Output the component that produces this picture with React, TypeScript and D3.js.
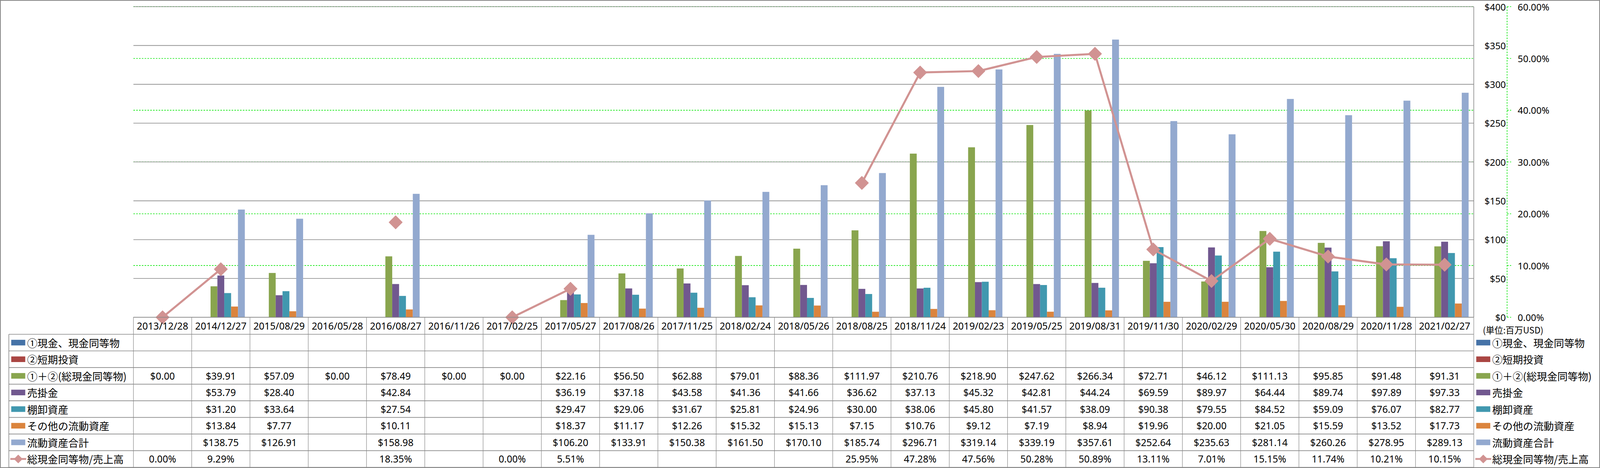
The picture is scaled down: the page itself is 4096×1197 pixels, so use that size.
import React, { useEffect } from 'react';
import * as d3 from 'd3';

// reference size; the svg viewBox scales it down to the 4096 window
const W = 5133;
const H = 1500;
const OUT_W = 4096;
const OUT_H = Math.round((H * OUT_W) / W);

const dates = [
  '2013/12/28', '2014/12/27', '2015/08/29', '2016/05/28', '2016/08/27', '2016/11/26',
  '2017/02/25', '2017/05/27', '2017/08/26', '2017/11/25', '2018/02/24', '2018/05/26',
  '2018/08/25', '2018/11/24', '2019/02/23', '2019/05/25', '2019/08/31', '2019/11/30',
  '2020/02/29', '2020/05/30', '2020/08/29', '2020/11/28', '2021/02/27',
];

type V = number | null;

const cash: V[] = [null, null, null, null, null, null, null, null, null, null, null, null, null, null, null, null, null, null, null, null, null, null, null];
const shortInvest: V[] = [null, null, null, null, null, null, null, null, null, null, null, null, null, null, null, null, null, null, null, null, null, null, null];
const cashTotal: V[] = [0, 39.91, 57.09, 0, 78.49, 0, 0, 22.16, 56.5, 62.88, 79.01, 88.36, 111.97, 210.76, 218.9, 247.62, 266.34, 72.71, 46.12, 111.13, 95.85, 91.48, 91.31];
const receivables: V[] = [null, 53.79, 28.4, null, 42.84, null, null, 36.19, 37.18, 43.58, 41.36, 41.66, 36.62, 37.13, 45.32, 42.81, 44.24, 69.59, 89.97, 64.44, 89.74, 97.89, 97.33];
const inventory: V[] = [null, 31.2, 33.64, null, 27.54, null, null, 29.47, 29.06, 31.67, 25.81, 24.96, 30.0, 38.06, 45.8, 41.57, 38.09, 90.38, 79.55, 84.52, 59.09, 76.07, 82.77];
const otherCurrent: V[] = [null, 13.84, 7.77, null, 10.11, null, null, 18.37, 11.17, 12.26, 15.32, 15.13, 7.15, 10.76, 9.12, 7.19, 8.94, 19.96, 20.0, 21.05, 15.59, 13.52, 17.73];
const totalCurrent: V[] = [null, 138.75, 126.91, null, 158.98, null, null, 106.2, 133.91, 150.38, 161.5, 170.1, 185.74, 296.71, 319.14, 339.19, 357.61, 252.64, 235.63, 281.14, 260.26, 278.95, 289.13];
// percent
const cashRatio: V[] = [0, 9.29, null, null, 18.35, null, 0, 5.51, null, null, null, null, 25.95, 47.28, 47.56, 50.28, 50.89, 13.11, 7.01, 15.15, 11.74, 10.21, 10.15];

const barNames = ['①現金、現金同等物', '②短期投資', '①＋②(総現金同等物)', '売掛金', '棚卸資産', 'その他の流動資産', '流動資産合計'];
const barColors = ['#4572A7', '#AA4643', '#89A54E', '#71588F', '#4198AF', '#DB843D', '#93A9CF'];
const barData = [cash, shortInvest, cashTotal, receivables, inventory, otherCurrent, totalCurrent];
const ratioName = '総現金同等物/売上高';
const ratioColor = '#D19392';
const unitLabel = '(単位:百万USD)';

const LATIN = "'Noto Sans', 'Noto Sans CJK JP', sans-serif";
const CJK = "'Noto Sans CJK JP', 'Noto Sans', sans-serif";
const GRID = '#878787';
const GREEN = '#00E600';

export default function App() {
  useEffect(() => {
    document.body.style.margin = '0';
  }, []);

  // layout
  const plotLeft = 428;
  const plotRight = 4728;
  const plotTop = 21.3;
  const plotBottom = 1017;
  const tableLeft = 28.3;
  const rowTop = 1071.5;
  const rowH = 53.28;
  const nRows = 8;
  const tableBottom = rowTop + nRows * rowH;

  const x = d3.scaleBand<string>().domain(dates).range([plotLeft, plotRight]).padding(0);
  const y = d3.scaleLinear().domain([0, 400]).range([plotBottom, plotTop]);
  const y2 = d3.scaleLinear().domain([0, 60]).range([plotBottom, plotTop]);

  const bw = x.bandwidth() / 8.5;
  const money = d3.format('$.2f');
  const pct = (v: number) => `${v.toFixed(2)}%`;

  const usdTicks = y.ticks(8);
  const pctTicks = y2.ticks(6);

  const line = d3
    .line<V>()
    .defined((d) => d != null)
    .x((_, i) => x(dates[i])! + x.bandwidth() / 2)
    .y((d) => y2(d as number));

  const diamond = (size: number) => `M0,${-size}L${size},0L0,${size}L${-size},0Z`;

  const rowY = (i: number) => rowTop + (i + 0.5) * rowH;

  const tableRows: { name: string; cells: string[] }[] = [
    ...barData.map((s, si) => ({
      name: barNames[si],
      cells: s.map((v) => (v == null ? '' : money(v))),
    })),
    { name: ratioName, cells: cashRatio.map((v) => (v == null ? '' : pct(v))) },
  ];

  const legendMarker = (i: number, mx: number, cy: number) =>
    i < barColors.length ? (
      <rect x={mx} y={cy - 9} width={45} height={18} fill={barColors[i]} />
    ) : (
      <g>
        <line x1={mx - 3} x2={mx + 48} y1={cy} y2={cy} stroke={ratioColor} strokeWidth={6} />
        <path d={diamond(14)} transform={`translate(${mx + 22.5},${cy})`} fill={ratioColor} />
      </g>
    );

  return (
    <svg
      width={OUT_W}
      height={OUT_H}
      viewBox={`0 0 ${W} ${H}`}
      style={{ position: 'absolute', left: 0, top: 0, background: '#fff' }}
    >
      <rect x={0} y={0} width={W} height={H} fill="#fff" />

      {/* secondary gridlines (green dashed) */}
      {pctTicks.filter((t) => t > 0).map((t) => (
        <line key={'g2' + t} x1={plotLeft} x2={plotRight} y1={y2(t)} y2={y2(t)}
          stroke={GREEN} strokeWidth={2} strokeDasharray="5,4" />
      ))}
      {/* primary gridlines */}
      {usdTicks.map((t) => (
        <line key={'g' + t} x1={plotLeft} x2={plotRight} y1={y(t)} y2={y(t)} stroke={GRID} strokeWidth={2} />
      ))}
      <line x1={plotRight} x2={plotRight} y1={plotTop} y2={plotBottom} stroke={GRID} strokeWidth={2} />

      {/* bars */}
      {barData.map((s, si) =>
        s.map((v, i) =>
          v == null || v === 0 ? null : (
            <rect key={`b${si}-${i}`} x={x(dates[i])! + 0.75 * bw + si * bw} y={y(v)}
              width={bw} height={plotBottom - y(v)} fill={barColors[si]} />
          )
        )
      )}

      {/* ratio line */}
      <path d={line(cashRatio) || ''} fill="none" stroke={ratioColor} strokeWidth={6.5} strokeLinejoin="round" />
      {cashRatio.map((v, i) =>
        v == null ? null : (
          <path key={'m' + i} d={diamond(21)}
            transform={`translate(${x(dates[i])! + x.bandwidth() / 2},${y2(v)})`}
            fill={ratioColor} stroke={ratioColor} strokeWidth={2} strokeLinejoin="round" />
        )
      )}

      {/* right axes */}
      {usdTicks.map((t) => (
        <text key={'ul' + t} x={4831} y={y(t)} textAnchor="end" dominantBaseline="central"
          fontFamily={LATIN} fontSize={30} fill="#000">{`$${t}`}</text>
      ))}
      <line x1={4835} x2={4835} y1={plotTop} y2={plotBottom} stroke={GREEN} strokeWidth={2} strokeDasharray="5,4" />
      {pctTicks.map((t) => (
        <g key={'pl' + t}>
          <line x1={4835} x2={4848} y1={y2(t)} y2={y2(t)} stroke={GREEN} strokeWidth={2} strokeDasharray="5,4" />
          <text x={4869} y={y2(t)} dominantBaseline="central" fontFamily={LATIN} fontSize={30} fill="#000">
            {pct(t)}
          </text>
        </g>
      ))}
      <text x={4757} y={1057} dominantBaseline="central" fontFamily={CJK} fontSize={28} fill="#000">{unitLabel}</text>

      {/* data table grid */}
      <line x1={plotLeft} x2={plotRight} y1={plotBottom} y2={plotBottom} stroke={GRID} strokeWidth={2} />
      {d3.range(nRows + 1).map((k) => (
        <line key={'h' + k} x1={tableLeft} x2={plotRight} y1={rowTop + k * rowH} y2={rowTop + k * rowH}
          stroke={GRID} strokeWidth={2} />
      ))}
      <line x1={tableLeft} x2={tableLeft} y1={rowTop} y2={tableBottom} stroke={GRID} strokeWidth={2} />
      {dates.map((d) => (
        <line key={'v' + d} x1={x(d)!} x2={x(d)!} y1={plotBottom} y2={tableBottom} stroke={GRID} strokeWidth={1.5} />
      ))}
      <line x1={plotRight} x2={plotRight} y1={plotBottom} y2={tableBottom} stroke={GRID} strokeWidth={1.5} />

      {/* header */}
      {dates.map((d) => (
        <text key={'hd' + d} x={x(d)! + x.bandwidth() / 2} y={(plotBottom + rowTop) / 2}
          textAnchor="middle" dominantBaseline="central" fontFamily={LATIN} fontSize={31} fill="#000">{d}</text>
      ))}

      {/* rows */}
      {tableRows.map((r, ri) => (
        <g key={'r' + ri}>
          {legendMarker(ri, 36, rowY(ri))}
          <text x={87} y={rowY(ri)} dominantBaseline="central" fontFamily={CJK} fontSize={33} fill="#000">{r.name}</text>
          {r.cells.map((c, ci) =>
            c === '' ? null : (
              <text key={'c' + ci} x={x(dates[ci])! + x.bandwidth() / 2} y={rowY(ri)} textAnchor="middle"
                dominantBaseline="central" fontFamily={LATIN} fontSize={31} fill="#000">{c}</text>
            )
          )}
          {legendMarker(ri, 4736, rowY(ri))}
          <text x={4787} y={rowY(ri)} dominantBaseline="central" fontFamily={CJK} fontSize={33} fill="#000">{r.name}</text>
        </g>
      ))}

      {/* outer border */}
      <rect x={1.25} y={1.25} width={W - 2.5} height={H - 2.5} fill="none" stroke={GRID} strokeWidth={2.5} />
    </svg>
  );
}
